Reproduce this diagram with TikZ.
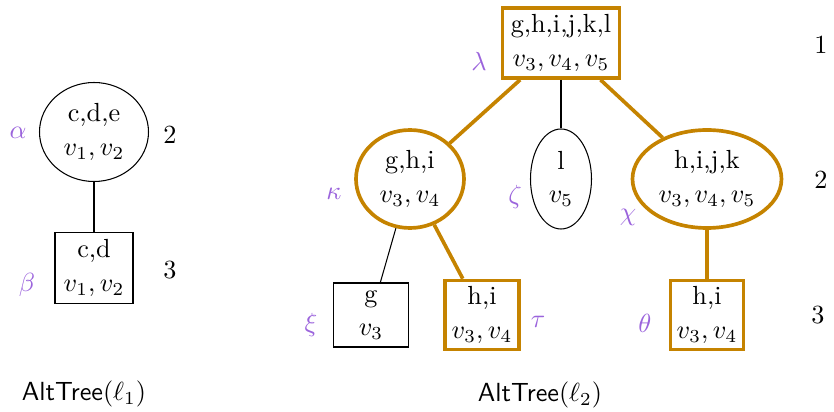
\documentclass[tikz,border=0pt]{standalone}
\usetikzlibrary{shapes.geometric}
\definecolor{gold}{RGB}{197,131,0}
\definecolor{lab}{RGB}{155,100,220}
\def\pxu{0.3817pt}
\begin{document}
\begin{tikzpicture}[x=0.3817pt,y=-0.3817pt,
  every node/.style={inner sep=0pt, align=center, font=\normalsize},
  ell/.style 2 args={ellipse, draw, minimum width=#1*\pxu, minimum height=#2*\pxu},
  box/.style 2 args={rectangle, draw, minimum width=#1*\pxu, minimum height=#2*\pxu},
  hl/.style={draw=gold, line width=1.4pt},
  lbl/.style={text=lab},
  hledge/.style={draw=gold, line width=1.4pt},
  plainedge/.style={draw=black, line width=0.4pt}]
\useasboundingbox (0,0) rectangle (834,412);
% left tree
\node[ell={109}{99}] (alpha) at (94,132) {c,d,e\\[0.7pt]$v_1,v_2$};
\node[box={78}{71}] (beta) at (94,268) {c,d\\[0.7pt]$v_1,v_2$};
\draw[plainedge] (alpha) -- (beta);
\node[lbl] (la) at (18,133) {$\alpha$};
\node[lbl] (lb) at (27,285) {$\beta$};
\node (n2a) at (170,135) {2};
\node (n3a) at (170,270) {3};
\node (t1) at (84,394) {\textsf{AltTree}$(\ell_1)$};
% right tree
\node[box={117}{70}, hl] (lambda) at (561,43) {g,h,i,j,k,l\\[0.7pt]$v_3,v_4,v_5$};
\node[ell={108}{98}, hl] (kappa) at (410,179) {g,h,i\\[0.7pt]$v_3,v_4$};
\node[ell={61}{100}] (zeta) at (561,179) {l\\[0.7pt]$v_5$};
\node[ell={149}{98}, hl] (chi) at (707,179) {h,i,j,k\\[0.7pt]$v_3,v_4,v_5$};
\node[box={75}{64}] (xi) at (371,315) {g\\[0.7pt]$v_3$};
\node[box={74}{69}, hl] (tau) at (482,315) {h,i\\[0.7pt]$v_3,v_4$};
\node[box={73}{69}, hl] (theta) at (707,315) {h,i\\[0.7pt]$v_3,v_4$};
\draw[hledge] (lambda) -- (kappa);
\draw[plainedge] (lambda) -- (zeta);
\draw[hledge] (lambda) -- (chi);
\draw[plainedge] (kappa) -- (xi);
\draw[hledge] (kappa) -- (tau);
\draw[hledge] (chi) -- (theta);
\node[lbl] (ll) at (479,61) {$\lambda$};
\node[lbl] (lk) at (334,194) {$\kappa$};
\node[lbl] (lz) at (515,197) {$\zeta$};
\node[lbl] (lc) at (628,217) {$\chi$};
\node[lbl] (lx) at (311,325) {$\xi$};
\node[lbl] (lt) at (538,322) {$\tau$};
\node[lbl] (lth) at (645,323) {$\theta$};
\node (n1) at (821,45) {1};
\node (n2) at (821,180) {2};
\node (n3) at (818,315) {3};
\node (t2) at (540,395) {\textsf{AltTree}$(\ell_2)$};
\end{tikzpicture}
\end{document}
